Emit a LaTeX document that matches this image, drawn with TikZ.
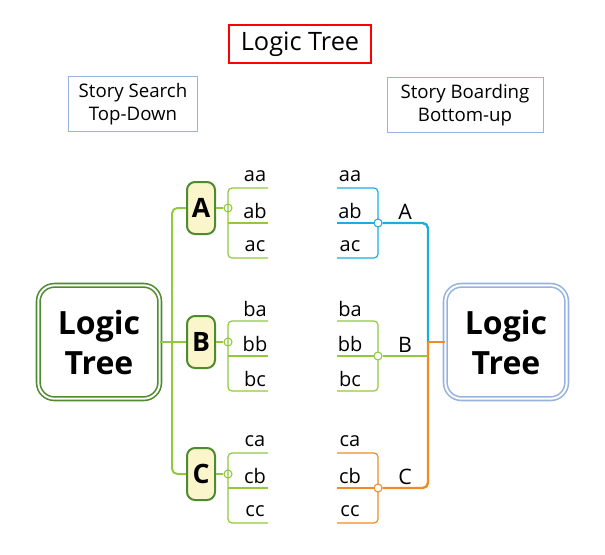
\documentclass[tikz,border=0pt]{standalone}
\usepackage{fontspec}
\setmainfont{Open Sans}
\definecolor{lg}{HTML}{92C83E}
\definecolor{dg}{HTML}{4E8A2E}
\definecolor{yl}{HTML}{FBF5CC}
\definecolor{bl}{HTML}{1AAEE0}
\definecolor{og}{HTML}{F08A24}
\definecolor{lb}{HTML}{95B3DE}
\begin{document}
\begin{tikzpicture}[x=0.75pt,y=-0.75pt,
  lbl/.style={draw=lb,minimum width=#1,minimum height=41pt,align=center,font=\fontsize{14}{17}\selectfont,inner sep=1pt},
  big/.style={rounded corners=12pt,minimum width=91pt,minimum height=85pt,align=center,font=\fontsize{24}{30}\selectfont\bfseries,line width=1.2pt,double,double distance=1.5pt},
  let/.style={draw=dg,fill=yl,line width=1.5pt,rounded corners=6pt,minimum width=21pt,minimum height=39pt,inner sep=0pt,font=\fontsize{20}{20}\selectfont\bfseries},
  leaf/.style={font=\fontsize{15}{16}\selectfont,inner sep=0pt},
  dot/.style={circle,draw,fill=white,inner sep=0pt,minimum size=6pt,line width=0.8pt},
  ln/.style={line width=1.5pt}]
\useasboundingbox (0,0) rectangle (605,554);
\node[draw=red,line width=1.5pt,minimum width=107pt,minimum height=29pt,font=\fontsize{19}{20}\selectfont] (title) at (300,44) {Logic Tree};
\node[lbl=97pt] (l1) at (133,104) {Story Search\\Top-Down};
\node[lbl=117pt] (l2) at (465,105) {Story Boarding\\Bottom-up};
\node[big,draw=dg] (L) at (99,342) {Logic\\Tree};
\node[big,draw=lb] (R) at (506,342) {Logic\\Tree};
% left side
\foreach \n/\y in {A/208,B/342,C/474}{
  \node[let] (\n) at (201,\y) {\n};
  \node[dot,draw=lg] (d\n) at (228,\y) {};
  \draw[lg,ln] (\n) -- (d\n);
}
\draw[lg,ln,rounded corners=4pt] (A.west) -- (172,208) -- (172,474) -- (C.west);
\draw[lg,ln] (L.east) -- (B.west);
\foreach \n/\y/\a/\b/\c in {A/188/aa/ab/ac,B/321/ba/bb/bc,C/453/ca/cb/cc}{
  \coordinate (e1\n) at (268,\y); \coordinate (e2\n) at (268,\y+35); \coordinate (e3\n) at (268,\y+70);
  \draw[lg,line width=0.9pt,rounded corners=3pt] (e1\n) -- (228,\y) -- (228,\y+70) -- (e3\n);
  \draw[lg,line width=0.9pt] (228,\y+35) -- (e2\n);
  \node[leaf] (la\n) at (255,\y-12) {\a};
  \node[leaf] (lb\n) at (255,\y+23) {\b};
  \node[leaf] (lc\n) at (255,\y+58) {\c};
}
% right side
\foreach \n/\y/\a/\b/\c/\col in {A/188/aa/ab/ac/bl,B/321/ba/bb/bc/lg,C/453/ca/cb/cc/og}{
  \draw[\col,line width=0.9pt,rounded corners=3pt] (337,\y) -- (378,\y) -- (378,\y+70) -- (337,\y+70);
  \draw[\col,line width=0.9pt] (337,\y+35) -- (378,\y+35);
  \node[leaf] (ra\n) at (350,\y-12) {\a};
  \node[leaf] (rb\n) at (350,\y+23) {\b};
  \node[leaf] (rc\n) at (350,\y+58) {\c};
  \node[font=\fontsize{16}{16}\selectfont] (rl\n) at (405,\y+24) {\n};
}
\node[dot,draw=bl] (rdA) at (378,223) {};
\node[dot,draw=lg] (rdB) at (378,356) {};
\node[dot,draw=og] (rdC) at (378,488) {};
\coordinate (m) at (428,342);
\draw[bl,line width=1.8pt,rounded corners=4pt] (rdA) -- (428,223) -- (m);
\draw[og,line width=1.8pt,rounded corners=4pt] (m) -- (428,488) -- (rdC);
\draw[og,line width=1.8pt] (m) -- (R.west);
\draw[lg,line width=1.8pt] (rdB) -- (428,356);
\end{tikzpicture}
\end{document}
